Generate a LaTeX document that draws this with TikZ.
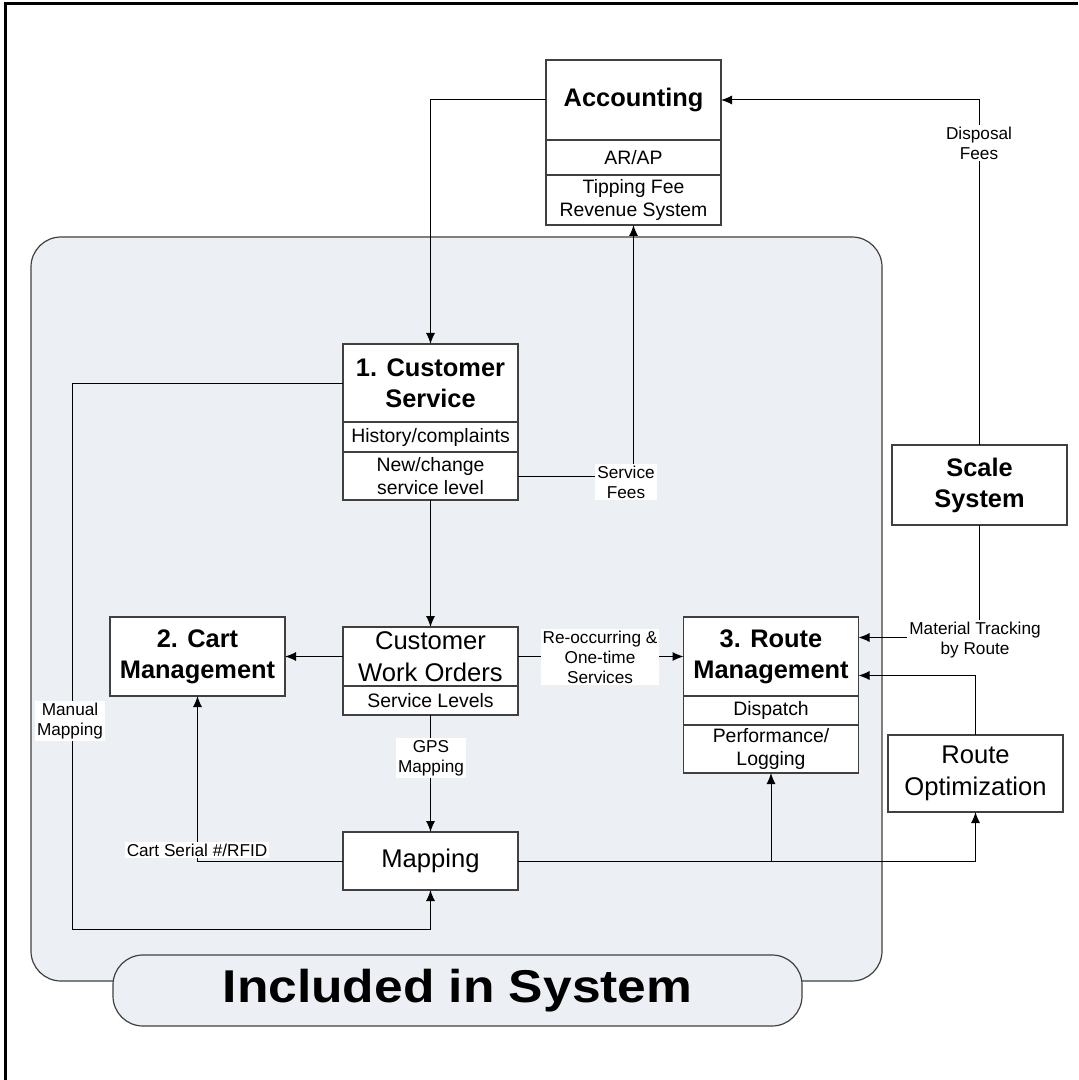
\documentclass[tikz,border=0pt]{standalone}
\usepackage{fontspec}
\setmainfont{Liberation Sans}
\usetikzlibrary{arrows.meta,positioning}
\definecolor{sysfill}{RGB}{236,240,245}
\definecolor{boxline}{RGB}{64,64,64}
\tikzset{
  box/.style={draw=boxline,fill=white,line width=.6pt,minimum width=87.5pt,
    inner sep=1pt,outer sep=0pt,align=center},
  hdr/.style={box,font=\fontsize{12.7}{15.5}\selectfont\bfseries},
  big/.style={box,font=\fontsize{12.8}{16}\selectfont},
  part/.style={box,font=\fontsize{9.7}{11.5}\selectfont},
  lbl/.style={fill=white,inner sep=1pt,align=center,font=\fontsize{8.6}{10}\selectfont},
  link/.style={-{Latex[length=5.5pt,width=4.5pt]},line width=.5pt},
}
\begin{document}
\begin{tikzpicture}[x=0.5pt,y=-0.5pt]
        \useasboundingbox (0,0) rectangle (1078,1080);
        \draw[line width=1.5pt] (5,1080) -- (5,4) -- (1078,4); %%
        \filldraw[rounded corners=15pt,fill=sysfill,draw=boxline,line width=.6pt] (31,237) rectangle (882,981); %%
        \node[rounded corners=15pt,fill=sysfill,draw=boxline,line width=.6pt,minimum width=344.5pt,minimum height=35.5pt,
          font=\fontsize{23}{28}\selectfont\bfseries] (incl) at (457.5,990.5) {\scalebox{1.12}[1]{Included in System}}; %%
        % outside boxes
        \node[hdr,minimum height=40pt] (acc) at (633.5,100) {Accounting}; %%
        \node[part,minimum height=17.5pt,below=0pt of acc] (accar) {AR/AP}; %%
        \node[part,minimum height=25pt,below=0pt of accar] (acctip) {Tipping Fee\\Revenue System}; %%
        \node[hdr,minimum height=40pt] (scale) at (979.5,485) {Scale\\System}; %%
        \node[big,minimum height=38.5pt] (ropt) at (975.5,773.5) {Route\\Optimization}; %%
        % inside boxes
        \node[hdr,minimum height=39pt] (cs) at (430.5,383) {1. Customer\\Service}; %%
        \node[part,minimum height=15pt,below=0pt of cs] (cshist) {History/complaints}; %%
        \node[part,minimum height=24pt,below=0pt of cshist] (csnew) {New/change\\service level}; %%
        \node[hdr,minimum height=39.5pt] (cart) at (197.5,656.5) {2. Cart\\Management}; %%
        \node[big,minimum height=29.5pt] (cwo) at (430.5,656.5) {Customer\\Work Orders}; %%
        \node[part,minimum height=14.5pt,below=0pt of cwo] (cwolvl) {Service Levels}; %%
        \node[hdr,minimum height=39.5pt] (rm) at (771,656.5) {3. Route\\Management}; %%
        \node[part,minimum height=14.5pt,below=0pt of rm] (rmdisp) {Dispatch}; %%
        \node[part,minimum height=24pt,below=0pt of rmdisp] (rmperf) {Performance/\\Logging}; %%
        \node[big,minimum height=29pt] (map) at (430.5,861) {Mapping}; %%
        \coordinate (mm) at (72,929); %%
        % connectors
        \draw[link] (scale.north) -- (scale.north |- acc.east) -- (acc.east); %%
        \draw[link] (acc.west) -| (cs.north); %%
        \draw[link] (csnew.east) -| (acctip.south); %%
        \draw[link] (csnew.south) -- (cwo.north); %%
        \draw[link] (cwo.west) -- (cart.east); %%
        \draw[link] (cwo.east) -- (rm.west); %%
        \draw[link] (cwolvl.south) -- (map.north); %%
        \draw[link] (map.west) -| (cart.south); %%
        \draw[link] (cs.west) -| (mm) -| (map.south); %%
        \draw[link] (map.east) -| (ropt.south); %%
        \draw[link] (map.east -| rmperf.south) -- (rmperf.south); %%
        \draw[link] (ropt.north) |- ([yshift=-9.5pt]rm.east); %%
        \draw[link] (scale.south) |- ([yshift=9.5pt]rm.east); %%
        % labels
        \node[lbl] (ldisp) at (979,143) {Disposal\\Fees}; %%
        \node[lbl] (lfees) at (626,482) {Service\\Fees}; %%
        \node[lbl] (lsvc) at (600,657) {Re-occurring \&\\One-time\\Services}; %%
        \node[lbl] (lgps) at (431,758) {GPS\\Mapping}; %%
        \node[lbl] (lcart) at (197,850) {Cart Serial \#/RFID}; %%
        \node[lbl] (lman) at (70,721) {Manual\\Mapping}; %%
        \node[lbl] (lmat) at (975,640) {Material Tracking\\by Route}; %%
\end{tikzpicture}
\end{document}
